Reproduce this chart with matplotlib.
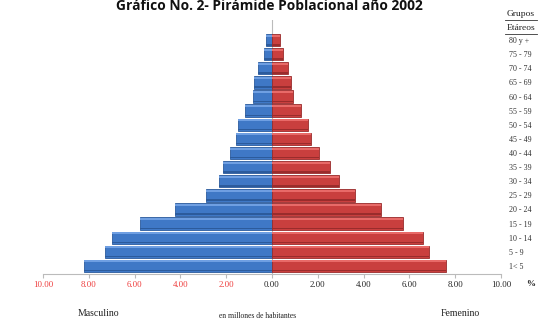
import matplotlib
matplotlib.use("Agg")
import matplotlib.pyplot as plt
from matplotlib.lines import Line2D
import numpy as np

# Age groups, oldest at the top
groups = ["80 y +", "75 - 79", "70 - 74", "65 - 69", "60 - 64", "55 - 59", "50 - 54",
          "45 - 49", "40 - 44", "35 - 39", "30 - 34", "25 - 29", "20 - 24", "15 - 19",
          "10 - 14", "5 - 9", "1< 5"]
masculino = [0.25, 0.37, 0.60, 0.78, 0.85, 1.18, 1.50, 1.59, 1.82, 2.12, 2.31, 2.88,
             4.22, 5.78, 6.99, 7.28, 8.19]
femenino = [0.33, 0.47, 0.70, 0.85, 0.93, 1.25, 1.58, 1.72, 2.06, 2.53, 2.93, 3.61,
            4.76, 5.72, 6.58, 6.87, 7.58]
ticks = [-10, -8, -6, -4, -2, 0, 2, 4, 6, 8, 10]

serif = "Liberation Serif"

fig = plt.figure(figsize=(5.39, 3.21), dpi=100)
ax = fig.add_axes([43 / 539, 1 - 274 / 321, (501 - 43) / 539, (274 - 20) / 321])

n = len(groups)
y = np.arange(n)[::-1]
h = 0.88

blue, blue_hi, blue_lo = "#3f78c6", "#6f9fe2", "#2c5b9c"
red, red_hi, red_lo = "#c93f3e", "#e86a68", "#9a2c2c"

def shaded(vals, sign, base, hi, lo):
    v = sign * np.array(vals)
    ax.barh(y, v, height=h, color=base, edgecolor=lo, linewidth=0.6, zorder=2)
    # highlight along the upper edge and shadow along the lower edge
    ax.barh(y + h * 0.36, v, height=h * 0.16, color=hi, linewidth=0, zorder=3)
    ax.barh(y - h * 0.38, v, height=h * 0.12, color=lo, linewidth=0, zorder=3)

shaded(masculino, -1, blue, blue_hi, blue_lo)
shaded(femenino, 1, red, red_hi, red_lo)

ax.set_xlim(-10, 10)
ax.set_ylim(-0.57, n - 1 + 1.42)
ax.axvline(0, color="#bbbbbb", linewidth=0.8, zorder=1)

for s in ["left", "right", "top"]:
    ax.spines[s].set_visible(False)
ax.spines["bottom"].set_color("#bbbbbb")
ax.spines["bottom"].set_linewidth(0.8)

ax.set_xticks(ticks)
ax.set_xticklabels([f"{abs(t):.2f}" for t in ticks], fontfamily=serif, fontsize=6.3)
for t, lab in zip(ticks, ax.get_xticklabels()):
    lab.set_color("#ee3a3a" if t < 0 else "#222222")
ax.tick_params(axis="x", length=3, color="#bbbbbb", pad=2)

ax.yaxis.tick_right()
ax.set_yticks(y)
ax.set_yticklabels(groups, fontfamily=serif, fontsize=5.8, color="#333333")
ax.tick_params(axis="y", length=0, pad=6)

fig.text(0.5, 1 - 6.5 / 321, "Gráfico No. 2- Pirámide Poblacional año 2002", ha="center",
         va="center", fontfamily="Open Sans", fontweight="bold", fontsize=9.9, color="#111111")

# header for the age-group column
fig.text(521 / 539, 1 - 14 / 321, "Grupos", ha="center", va="center",
         fontfamily=serif, fontsize=6.8, color="#222222")
fig.text(521 / 539, 1 - 28 / 321, "Etáreos", ha="center", va="center",
         fontfamily=serif, fontsize=6.8, color="#222222")
for yy in (19.5, 33.5):
    fig.add_artist(Line2D([505 / 539, 537 / 539], [1 - yy / 321, 1 - yy / 321],
                          color="#333333", linewidth=0.6))

fig.text(531 / 539, 1 - 284 / 321, "%", ha="center", va="center",
         fontfamily=serif, fontsize=6.5, fontweight="bold", color="#222222")
fig.text(98 / 539, 1 - 313 / 321, "Masculino", ha="center", va="center",
         fontfamily=serif, fontsize=7, color="#222222")
fig.text(258 / 539, 1 - 316 / 321, "en millones de habitantes", ha="center", va="center",
         fontfamily=serif, fontsize=5.5, color="#222222")
fig.text(460 / 539, 1 - 313 / 321, "Femenino", ha="center", va="center",
         fontfamily=serif, fontsize=7, color="#222222")

fig.savefig("out.png", dpi=100)
